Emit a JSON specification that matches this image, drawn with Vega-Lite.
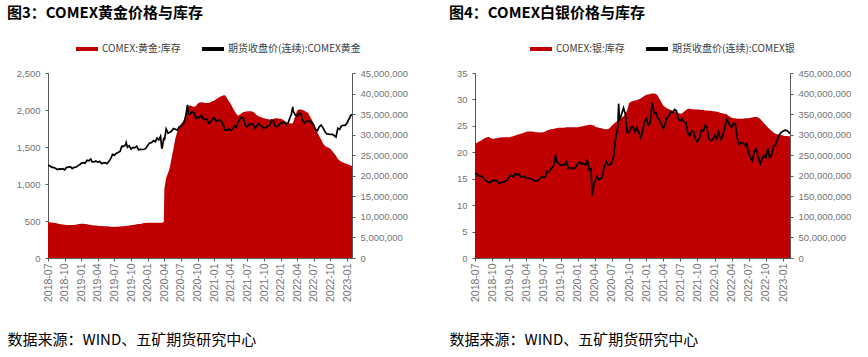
{
  "$schema": "https://vega.github.io/schema/vega-lite/v6.json",
  "padding": {"left": 7, "top": 6, "right": 5, "bottom": 5},
  "background": "#ffffff",
  "datasets": {
    "m": [
      {"date":"2018-07-01","gold":1253,"gold_stock":8750000,"silver":16.0,"silver_stock":278000000},
      {"date":"2018-07-11","gold":1245,"gold_stock":8700000,"silver":15.9,"silver_stock":280000000},
      {"date":"2018-07-21","gold":1228,"gold_stock":8650000,"silver":15.5,"silver_stock":283000000},
      {"date":"2018-08-01","gold":1222,"gold_stock":8600000,"silver":15.5,"silver_stock":285000000},
      {"date":"2018-08-11","gold":1212,"gold_stock":8500000,"silver":15.3,"silver_stock":288000000},
      {"date":"2018-08-21","gold":1196,"gold_stock":8400000,"silver":14.8,"silver_stock":291000000},
      {"date":"2018-09-01","gold":1203,"gold_stock":8300000,"silver":14.5,"silver_stock":293000000},
      {"date":"2018-09-11","gold":1200,"gold_stock":8200000,"silver":14.3,"silver_stock":295000000},
      {"date":"2018-09-21","gold":1206,"gold_stock":8150000,"silver":14.3,"silver_stock":292000000},
      {"date":"2018-10-01","gold":1191,"gold_stock":8100000,"silver":14.7,"silver_stock":290000000},
      {"date":"2018-10-11","gold":1225,"gold_stock":8050000,"silver":14.6,"silver_stock":290000000},
      {"date":"2018-10-21","gold":1228,"gold_stock":8000000,"silver":14.7,"silver_stock":291000000},
      {"date":"2018-11-01","gold":1233,"gold_stock":8000000,"silver":14.3,"silver_stock":292000000},
      {"date":"2018-11-11","gold":1208,"gold_stock":8000000,"silver":14.1,"silver_stock":293000000},
      {"date":"2018-11-21","gold":1225,"gold_stock":8000000,"silver":14.4,"silver_stock":294000000},
      {"date":"2018-12-01","gold":1228,"gold_stock":8100000,"silver":14.3,"silver_stock":294000000},
      {"date":"2018-12-11","gold":1245,"gold_stock":8200000,"silver":14.6,"silver_stock":294000000},
      {"date":"2018-12-21","gold":1258,"gold_stock":8300000,"silver":14.7,"silver_stock":294000000},
      {"date":"2019-01-01","gold":1283,"gold_stock":8350000,"silver":15.5,"silver_stock":294000000},
      {"date":"2019-01-11","gold":1288,"gold_stock":8350000,"silver":15.7,"silver_stock":295000000},
      {"date":"2019-01-21","gold":1281,"gold_stock":8300000,"silver":15.3,"silver_stock":296000000},
      {"date":"2019-02-01","gold":1320,"gold_stock":8200000,"silver":16.0,"silver_stock":298000000},
      {"date":"2019-02-11","gold":1313,"gold_stock":8100000,"silver":15.7,"silver_stock":300000000},
      {"date":"2019-02-21","gold":1338,"gold_stock":8000000,"silver":15.9,"silver_stock":301000000},
      {"date":"2019-03-01","gold":1298,"gold_stock":7950000,"silver":15.3,"silver_stock":302000000},
      {"date":"2019-03-11","gold":1298,"gold_stock":7900000,"silver":15.3,"silver_stock":303000000},
      {"date":"2019-03-21","gold":1312,"gold_stock":7900000,"silver":15.5,"silver_stock":305000000},
      {"date":"2019-04-01","gold":1293,"gold_stock":7850000,"silver":15.1,"silver_stock":307000000},
      {"date":"2019-04-11","gold":1306,"gold_stock":7800000,"silver":15.1,"silver_stock":308000000},
      {"date":"2019-04-21","gold":1276,"gold_stock":7800000,"silver":15.0,"silver_stock":308000000},
      {"date":"2019-05-01","gold":1282,"gold_stock":7750000,"silver":14.9,"silver_stock":308000000},
      {"date":"2019-05-11","gold":1287,"gold_stock":7700000,"silver":14.7,"silver_stock":307000000},
      {"date":"2019-05-21","gold":1274,"gold_stock":7700000,"silver":14.5,"silver_stock":306000000},
      {"date":"2019-06-01","gold":1306,"gold_stock":7650000,"silver":14.6,"silver_stock":306000000},
      {"date":"2019-06-11","gold":1343,"gold_stock":7600000,"silver":14.9,"silver_stock":305000000},
      {"date":"2019-06-21","gold":1400,"gold_stock":7600000,"silver":15.4,"silver_stock":305000000},
      {"date":"2019-07-01","gold":1390,"gold_stock":7600000,"silver":15.3,"silver_stock":306000000},
      {"date":"2019-07-11","gold":1413,"gold_stock":7600000,"silver":15.3,"silver_stock":308000000},
      {"date":"2019-07-21","gold":1426,"gold_stock":7600000,"silver":16.4,"silver_stock":310000000},
      {"date":"2019-08-01","gold":1440,"gold_stock":7650000,"silver":16.3,"silver_stock":312000000},
      {"date":"2019-08-11","gold":1512,"gold_stock":7700000,"silver":16.9,"silver_stock":313000000},
      {"date":"2019-08-21","gold":1509,"gold_stock":7750000,"silver":17.2,"silver_stock":314000000},
      {"date":"2019-09-01","gold":1530,"gold_stock":7800000,"silver":18.4,"silver_stock":315000000},
      {"date":"2019-09-04","gold":1560,"gold_stock":7800000,"silver":19.6,"silver_stock":315000000},
      {"date":"2019-09-11","gold":1497,"gold_stock":7850000,"silver":18.2,"silver_stock":316000000},
      {"date":"2019-09-21","gold":1516,"gold_stock":7900000,"silver":17.9,"silver_stock":317000000},
      {"date":"2019-10-01","gold":1472,"gold_stock":7950000,"silver":17.5,"silver_stock":317000000},
      {"date":"2019-10-11","gold":1494,"gold_stock":8000000,"silver":17.6,"silver_stock":317000000},
      {"date":"2019-10-21","gold":1489,"gold_stock":8100000,"silver":17.6,"silver_stock":317000000},
      {"date":"2019-11-01","gold":1512,"gold_stock":8200000,"silver":18.2,"silver_stock":318000000},
      {"date":"2019-11-11","gold":1462,"gold_stock":8250000,"silver":16.9,"silver_stock":318000000},
      {"date":"2019-11-21","gold":1467,"gold_stock":8300000,"silver":17.0,"silver_stock":318000000},
      {"date":"2019-12-01","gold":1466,"gold_stock":8400000,"silver":17.0,"silver_stock":318000000},
      {"date":"2019-12-11","gold":1470,"gold_stock":8500000,"silver":16.9,"silver_stock":318000000},
      {"date":"2019-12-21","gold":1481,"gold_stock":8500000,"silver":17.2,"silver_stock":318000000},
      {"date":"2020-01-01","gold":1523,"gold_stock":8600000,"silver":17.9,"silver_stock":318000000},
      {"date":"2020-01-11","gold":1554,"gold_stock":8600000,"silver":18.1,"silver_stock":319000000},
      {"date":"2020-01-21","gold":1558,"gold_stock":8600000,"silver":17.8,"silver_stock":320000000},
      {"date":"2020-02-01","gold":1587,"gold_stock":8600000,"silver":17.9,"silver_stock":321000000},
      {"date":"2020-02-11","gold":1570,"gold_stock":8600000,"silver":17.6,"silver_stock":322000000},
      {"date":"2020-02-21","gold":1620,"gold_stock":8600000,"silver":18.5,"silver_stock":323000000},
      {"date":"2020-03-01","gold":1595,"gold_stock":8600000,"silver":16.7,"silver_stock":324000000},
      {"date":"2020-03-11","gold":1644,"gold_stock":8600000,"silver":16.9,"silver_stock":324000000},
      {"date":"2020-03-18","gold":1477,"gold_stock":8600000,"silver":11.8,"silver_stock":323000000},
      {"date":"2020-03-21","gold":1498,"gold_stock":8600000,"silver":12.6,"silver_stock":323000000},
      {"date":"2020-03-29","gold":1625,"gold_stock":8800000,"silver":14.2,"silver_stock":322000000},
      {"date":"2020-04-01","gold":1590,"gold_stock":16800000,"silver":14.4,"silver_stock":320000000},
      {"date":"2020-04-11","gold":1744,"gold_stock":19500000,"silver":15.4,"silver_stock":318000000},
      {"date":"2020-04-21","gold":1687,"gold_stock":20600000,"silver":14.8,"silver_stock":317000000},
      {"date":"2020-05-01","gold":1700,"gold_stock":22000000,"silver":15.0,"silver_stock":316000000},
      {"date":"2020-05-11","gold":1715,"gold_stock":24400000,"silver":15.4,"silver_stock":315000000},
      {"date":"2020-05-21","gold":1750,"gold_stock":26600000,"silver":17.2,"silver_stock":314000000},
      {"date":"2020-06-01","gold":1740,"gold_stock":29200000,"silver":18.3,"silver_stock":313000000},
      {"date":"2020-06-11","gold":1727,"gold_stock":30700000,"silver":17.6,"silver_stock":314000000},
      {"date":"2020-06-21","gold":1770,"gold_stock":31800000,"silver":17.6,"silver_stock":317000000},
      {"date":"2020-07-01","gold":1780,"gold_stock":32600000,"silver":18.1,"silver_stock":322000000},
      {"date":"2020-07-11","gold":1805,"gold_stock":33100000,"silver":19.3,"silver_stock":326000000},
      {"date":"2020-07-21","gold":1844,"gold_stock":34000000,"silver":22.8,"silver_stock":330000000},
      {"date":"2020-08-01","gold":1985,"gold_stock":35500000,"silver":24.5,"silver_stock":334000000},
      {"date":"2020-08-06","gold":2070,"gold_stock":36400000,"silver":29.2,"silver_stock":336000000},
      {"date":"2020-08-11","gold":1946,"gold_stock":37000000,"silver":26.0,"silver_stock":338000000},
      {"date":"2020-08-21","gold":1947,"gold_stock":37100000,"silver":27.1,"silver_stock":342000000},
      {"date":"2020-09-01","gold":1978,"gold_stock":36900000,"silver":28.4,"silver_stock":345000000},
      {"date":"2020-09-11","gold":1963,"gold_stock":36800000,"silver":27.2,"silver_stock":350000000},
      {"date":"2020-09-21","gold":1880,"gold_stock":37000000,"silver":23.7,"silver_stock":360000000},
      {"date":"2020-10-01","gold":1908,"gold_stock":37500000,"silver":23.8,"silver_stock":377000000},
      {"date":"2020-10-11","gold":1895,"gold_stock":37800000,"silver":24.6,"silver_stock":380000000},
      {"date":"2020-10-21","gold":1930,"gold_stock":37900000,"silver":24.9,"silver_stock":382000000},
      {"date":"2020-11-01","gold":1880,"gold_stock":37800000,"silver":23.9,"silver_stock":383000000},
      {"date":"2020-11-11","gold":1876,"gold_stock":37700000,"silver":24.6,"silver_stock":384000000},
      {"date":"2020-11-21","gold":1874,"gold_stock":37700000,"silver":23.8,"silver_stock":386000000},
      {"date":"2020-12-01","gold":1820,"gold_stock":37700000,"silver":22.8,"silver_stock":388000000},
      {"date":"2020-12-11","gold":1839,"gold_stock":37900000,"silver":23.8,"silver_stock":391000000},
      {"date":"2020-12-21","gold":1878,"gold_stock":38100000,"silver":25.8,"silver_stock":394000000},
      {"date":"2021-01-01","gold":1895,"gold_stock":38300000,"silver":26.4,"silver_stock":397000000},
      {"date":"2021-01-11","gold":1843,"gold_stock":38600000,"silver":25.1,"silver_stock":398000000},
      {"date":"2021-01-21","gold":1866,"gold_stock":38900000,"silver":25.6,"silver_stock":399000000},
      {"date":"2021-02-01","gold":1863,"gold_stock":39200000,"silver":29.4,"silver_stock":400000000},
      {"date":"2021-02-11","gold":1841,"gold_stock":39400000,"silver":27.4,"silver_stock":400000000},
      {"date":"2021-02-21","gold":1778,"gold_stock":39600000,"silver":27.5,"silver_stock":399000000},
      {"date":"2021-03-01","gold":1725,"gold_stock":39600000,"silver":26.6,"silver_stock":396000000},
      {"date":"2021-03-11","gold":1727,"gold_stock":38900000,"silver":26.2,"silver_stock":388000000},
      {"date":"2021-03-21","gold":1741,"gold_stock":38200000,"silver":25.4,"silver_stock":380000000},
      {"date":"2021-04-01","gold":1728,"gold_stock":37500000,"silver":24.5,"silver_stock":371000000},
      {"date":"2021-04-11","gold":1744,"gold_stock":36600000,"silver":25.4,"silver_stock":367000000},
      {"date":"2021-04-21","gold":1785,"gold_stock":35800000,"silver":26.5,"silver_stock":364000000},
      {"date":"2021-05-01","gold":1768,"gold_stock":35100000,"silver":26.9,"silver_stock":362000000},
      {"date":"2021-05-11","gold":1836,"gold_stock":34600000,"silver":27.7,"silver_stock":360000000},
      {"date":"2021-05-21","gold":1876,"gold_stock":34900000,"silver":27.5,"silver_stock":359000000},
      {"date":"2021-06-01","gold":1905,"gold_stock":35300000,"silver":28.1,"silver_stock":357000000},
      {"date":"2021-06-11","gold":1880,"gold_stock":35500000,"silver":27.8,"silver_stock":355000000},
      {"date":"2021-06-21","gold":1782,"gold_stock":35600000,"silver":26.3,"silver_stock":353000000},
      {"date":"2021-07-01","gold":1777,"gold_stock":35700000,"silver":26.0,"silver_stock":351000000},
      {"date":"2021-07-11","gold":1806,"gold_stock":35700000,"silver":26.3,"silver_stock":352000000},
      {"date":"2021-07-21","gold":1806,"gold_stock":35700000,"silver":25.7,"silver_stock":356000000},
      {"date":"2021-08-01","gold":1813,"gold_stock":35600000,"silver":25.6,"silver_stock":360000000},
      {"date":"2021-08-11","gold":1752,"gold_stock":35300000,"silver":23.5,"silver_stock":363000000},
      {"date":"2021-08-21","gold":1781,"gold_stock":34800000,"silver":23.1,"silver_stock":363000000},
      {"date":"2021-09-01","gold":1815,"gold_stock":34500000,"silver":24.1,"silver_stock":362000000},
      {"date":"2021-09-11","gold":1788,"gold_stock":34300000,"silver":23.8,"silver_stock":362000000},
      {"date":"2021-09-21","gold":1774,"gold_stock":34100000,"silver":22.4,"silver_stock":361000000},
      {"date":"2021-10-01","gold":1757,"gold_stock":34000000,"silver":22.0,"silver_stock":361000000},
      {"date":"2021-10-11","gold":1759,"gold_stock":33900000,"silver":22.6,"silver_stock":361000000},
      {"date":"2021-10-21","gold":1783,"gold_stock":33800000,"silver":24.2,"silver_stock":360000000},
      {"date":"2021-11-01","gold":1794,"gold_stock":33700000,"silver":24.0,"silver_stock":360000000},
      {"date":"2021-11-11","gold":1862,"gold_stock":33700000,"silver":25.1,"silver_stock":359000000},
      {"date":"2021-11-21","gold":1853,"gold_stock":33800000,"silver":24.7,"silver_stock":359000000},
      {"date":"2021-12-01","gold":1781,"gold_stock":34000000,"silver":22.5,"silver_stock":358000000},
      {"date":"2021-12-11","gold":1775,"gold_stock":34000000,"silver":22.2,"silver_stock":358000000},
      {"date":"2021-12-21","gold":1790,"gold_stock":33900000,"silver":22.3,"silver_stock":357000000},
      {"date":"2022-01-01","gold":1828,"gold_stock":33900000,"silver":23.2,"silver_stock":357000000},
      {"date":"2022-01-11","gold":1820,"gold_stock":33700000,"silver":22.6,"silver_stock":356000000},
      {"date":"2022-01-21","gold":1836,"gold_stock":33400000,"silver":23.9,"silver_stock":355000000},
      {"date":"2022-02-01","gold":1801,"gold_stock":33100000,"silver":22.4,"silver_stock":353000000},
      {"date":"2022-02-11","gold":1827,"gold_stock":32900000,"silver":22.9,"silver_stock":352000000},
      {"date":"2022-02-21","gold":1898,"gold_stock":32700000,"silver":24.2,"silver_stock":351000000},
      {"date":"2022-03-01","gold":1944,"gold_stock":32700000,"silver":25.5,"silver_stock":350000000},
      {"date":"2022-03-08","gold":2043,"gold_stock":32800000,"silver":26.5,"silver_stock":349000000},
      {"date":"2022-03-11","gold":1985,"gold_stock":33000000,"silver":25.9,"silver_stock":347000000},
      {"date":"2022-03-21","gold":1935,"gold_stock":34500000,"silver":25.2,"silver_stock":344000000},
      {"date":"2022-04-01","gold":1923,"gold_stock":35900000,"silver":24.7,"silver_stock":341000000},
      {"date":"2022-04-11","gold":1953,"gold_stock":36100000,"silver":25.5,"silver_stock":340000000},
      {"date":"2022-04-21","gold":1950,"gold_stock":36100000,"silver":25.3,"silver_stock":340000000},
      {"date":"2022-05-01","gold":1863,"gold_stock":36000000,"silver":22.8,"silver_stock":339000000},
      {"date":"2022-05-11","gold":1824,"gold_stock":35800000,"silver":21.5,"silver_stock":339000000},
      {"date":"2022-05-21","gold":1846,"gold_stock":35600000,"silver":21.8,"silver_stock":339000000},
      {"date":"2022-06-01","gold":1848,"gold_stock":35300000,"silver":21.8,"silver_stock":339000000},
      {"date":"2022-06-11","gold":1849,"gold_stock":34400000,"silver":21.3,"silver_stock":340000000},
      {"date":"2022-06-21","gold":1830,"gold_stock":33600000,"silver":21.6,"silver_stock":340000000},
      {"date":"2022-07-01","gold":1801,"gold_stock":32700000,"silver":19.8,"silver_stock":340000000},
      {"date":"2022-07-11","gold":1740,"gold_stock":31600000,"silver":19.0,"silver_stock":341000000},
      {"date":"2022-07-21","gold":1719,"gold_stock":30500000,"silver":18.4,"silver_stock":342000000},
      {"date":"2022-08-01","gold":1772,"gold_stock":29700000,"silver":20.2,"silver_stock":343000000},
      {"date":"2022-08-11","gold":1796,"gold_stock":28800000,"silver":20.6,"silver_stock":343000000},
      {"date":"2022-08-21","gold":1762,"gold_stock":27900000,"silver":19.1,"silver_stock":342000000},
      {"date":"2022-09-01","gold":1709,"gold_stock":27300000,"silver":17.8,"silver_stock":338000000},
      {"date":"2022-09-11","gold":1676,"gold_stock":27000000,"silver":18.8,"silver_stock":333000000},
      {"date":"2022-09-21","gold":1673,"gold_stock":26800000,"silver":19.4,"silver_stock":328000000},
      {"date":"2022-10-01","gold":1669,"gold_stock":26600000,"silver":19.0,"silver_stock":323000000},
      {"date":"2022-10-11","gold":1675,"gold_stock":26000000,"silver":20.7,"silver_stock":318000000},
      {"date":"2022-10-21","gold":1656,"gold_stock":25500000,"silver":19.0,"silver_stock":314000000},
      {"date":"2022-11-01","gold":1635,"gold_stock":24900000,"silver":19.5,"silver_stock":309000000},
      {"date":"2022-11-11","gold":1753,"gold_stock":24100000,"silver":21.2,"silver_stock":305000000},
      {"date":"2022-11-21","gold":1740,"gold_stock":23700000,"silver":21.3,"silver_stock":302000000},
      {"date":"2022-12-01","gold":1784,"gold_stock":23400000,"silver":22.5,"silver_stock":301000000},
      {"date":"2022-12-11","gold":1793,"gold_stock":23200000,"silver":23.3,"silver_stock":300000000},
      {"date":"2022-12-21","gold":1793,"gold_stock":23000000,"silver":23.7,"silver_stock":299000000},
      {"date":"2023-01-01","gold":1825,"gold_stock":22900000,"silver":24.0,"silver_stock":298000000},
      {"date":"2023-01-11","gold":1877,"gold_stock":22700000,"silver":24.2,"silver_stock":297000000},
      {"date":"2023-01-21","gold":1928,"gold_stock":22500000,"silver":24.1,"silver_stock":297000000},
      {"date":"2023-02-01","gold":1942,"gold_stock":22400000,"silver":23.8,"silver_stock":296000000},
      {"date":"2023-02-07","gold":1935,"gold_stock":22300000,"silver":23.5,"silver_stock":296000000}
    ]
  },
  "data": {"name": "m"},
  "config": {
    "view": {"stroke": null},
    "axis": {
      "grid": false,
      "labelFont": "Liberation Sans",
      "labelFontSize": 9.5,
      "labelColor": "#737373",
      "domainColor": "#595959",
      "tickColor": "#595959",
      "tickSize": 3,
      "labelPadding": 5
    },
    "title": {"font": "Noto Sans CJK SC", "fontSize": 15, "fontWeight": "bold", "color": "#000000"},
    "legend": {
      "orient": "none",
      "direction": "horizontal",
      "title": null,
      "labelFont": "Noto Sans CJK SC",
      "labelFontSize": 10,
      "labelColor": "#404040",
      "symbolType": "stroke",
      "symbolSize": 484,
      "symbolStrokeWidth": 4,
      "labelOffset": 2,
      "columnPadding": 13,
      "padding": 0
    }
  },
  "spacing": 123,
  "bounds": "flush",
  "resolve": {"scale": {"x": "independent", "y": "independent", "color": "independent"}, "legend": {"color": "independent"}},
  "hconcat": [
    {
      "width": 304,
      "height": 185,
      "title": {"text": "图3：COMEX黄金价格与库存", "anchor": "start", "frame": "group", "dx": -41, "offset": 15, "fontSize": 15, "font": "Noto Sans CJK SC", "fontWeight": "bold"},
      "encoding": {
        "x": {
          "field": "date", "type": "temporal",
          "scale": {"type": "utc", "domain": [{"year": 2018, "month": 7, "date": 1, "utc": true}, {"year": 2023, "month": 1, "date": 28, "utc": true}]},
          "axis": {
            "values": [
              {"year": 2018, "month": 7, "date": 1, "utc": true}, {"year": 2018, "month": 10, "date": 1, "utc": true},
              {"year": 2019, "month": 1, "date": 1, "utc": true}, {"year": 2019, "month": 4, "date": 1, "utc": true},
              {"year": 2019, "month": 7, "date": 1, "utc": true}, {"year": 2019, "month": 10, "date": 1, "utc": true},
              {"year": 2020, "month": 1, "date": 1, "utc": true}, {"year": 2020, "month": 4, "date": 1, "utc": true},
              {"year": 2020, "month": 7, "date": 1, "utc": true}, {"year": 2020, "month": 10, "date": 1, "utc": true},
              {"year": 2021, "month": 1, "date": 1, "utc": true}, {"year": 2021, "month": 4, "date": 1, "utc": true},
              {"year": 2021, "month": 7, "date": 1, "utc": true}, {"year": 2021, "month": 10, "date": 1, "utc": true},
              {"year": 2022, "month": 1, "date": 1, "utc": true}, {"year": 2022, "month": 4, "date": 1, "utc": true},
              {"year": 2022, "month": 7, "date": 1, "utc": true}, {"year": 2022, "month": 10, "date": 1, "utc": true},
              {"year": 2023, "month": 1, "date": 1, "utc": true}
            ],
            "format": "%Y-%m",
            "labelAngle": -90,
            "labelPadding": 2,
            "labelFontSize": 10.5,
            "title": "数据来源：WIND、五矿期货研究中心",
            "titleFont": "Noto Sans CJK SC",
            "titleFontSize": 15,
            "titleFontWeight": "normal",
            "titleColor": "#000000",
            "titleAnchor": "start",
            "titleAlign": "left",
            "titleBaseline": "alphabetic",
            "titleX": -41,
            "titleY": 86
          }
        }
      },
      "layer": [
        {
          "mark": {"type": "area", "opacity": 1, "clip": true, "interpolate": "linear"},
          "encoding": {
            "y": {
              "field": "gold_stock", "type": "quantitative",
              "scale": {"domain": [0, 45000000], "nice": false},
              "axis": {"orient": "right", "title": null, "values": [0, 5000000, 10000000, 15000000, 20000000, 25000000, 30000000, 35000000, 40000000, 45000000], "format": ",.0f", "labelPadding": 5}
            },
            "color": {
              "datum": "COMEX:黄金:库存",
              "scale": {"domain": ["COMEX:黄金:库存", "期货收盘价(连续):COMEX黄金"], "range": ["#c00000", "#000000"]},
              "legend": {
                "orient": "none", "legendX": 26, "legendY": -37,
                "symbolType": "stroke",
                "encode": {
                  "symbols": {"update": {
                    "shape": {"value": "stroke"},
                    "stroke": {"signal": "indexOf(datum.value, '库存') >= 0 ? '#c00000' : '#000000'"},
                    "strokeWidth": {"signal": "indexOf(datum.value, '库存') >= 0 ? 4.5 : 1.8"},
                    "fill": {"value": "transparent"},
                    "opacity": {"value": 1},
                    "strokeOpacity": {"value": 1}
                  }}
                }
              }
            }
          }
        },
        {
          "mark": {"type": "line", "strokeWidth": 1.7, "clip": true},
          "encoding": {
            "y": {
              "field": "gold", "type": "quantitative",
              "scale": {"domain": [0, 2500], "nice": false},
              "axis": {"orient": "left", "title": null, "values": [0, 500, 1000, 1500, 2000, 2500], "format": ",.0f"}
            },
            "color": {"datum": "期货收盘价(连续):COMEX黄金"}
          }
        }
      ],
      "resolve": {"scale": {"y": "independent"}}
    },
    {
      "width": 315,
      "height": 185,
      "title": {"text": "图4：COMEX白银价格与库存", "anchor": "start", "frame": "group", "dx": -26, "offset": 15, "fontSize": 15, "font": "Noto Sans CJK SC", "fontWeight": "bold"},
      "encoding": {
        "x": {
          "field": "date", "type": "temporal",
          "scale": {"type": "utc", "domain": [{"year": 2018, "month": 7, "date": 1, "utc": true}, {"year": 2023, "month": 2, "date": 7, "utc": true}]},
          "axis": {
            "values": [
              {"year": 2018, "month": 7, "date": 1, "utc": true}, {"year": 2018, "month": 10, "date": 1, "utc": true},
              {"year": 2019, "month": 1, "date": 1, "utc": true}, {"year": 2019, "month": 4, "date": 1, "utc": true},
              {"year": 2019, "month": 7, "date": 1, "utc": true}, {"year": 2019, "month": 10, "date": 1, "utc": true},
              {"year": 2020, "month": 1, "date": 1, "utc": true}, {"year": 2020, "month": 4, "date": 1, "utc": true},
              {"year": 2020, "month": 7, "date": 1, "utc": true}, {"year": 2020, "month": 10, "date": 1, "utc": true},
              {"year": 2021, "month": 1, "date": 1, "utc": true}, {"year": 2021, "month": 4, "date": 1, "utc": true},
              {"year": 2021, "month": 7, "date": 1, "utc": true}, {"year": 2021, "month": 10, "date": 1, "utc": true},
              {"year": 2022, "month": 1, "date": 1, "utc": true}, {"year": 2022, "month": 4, "date": 1, "utc": true},
              {"year": 2022, "month": 7, "date": 1, "utc": true}, {"year": 2022, "month": 10, "date": 1, "utc": true},
              {"year": 2023, "month": 1, "date": 1, "utc": true}
            ],
            "format": "%Y-%m",
            "labelAngle": -90,
            "labelPadding": 2,
            "labelFontSize": 10.5,
            "title": "数据来源：WIND、五矿期货研究中心",
            "titleFont": "Noto Sans CJK SC",
            "titleFontSize": 15,
            "titleFontWeight": "normal",
            "titleColor": "#000000",
            "titleAnchor": "start",
            "titleAlign": "left",
            "titleBaseline": "alphabetic",
            "titleX": -26,
            "titleY": 86
          }
        }
      },
      "layer": [
        {
          "mark": {"type": "area", "opacity": 1, "clip": true, "interpolate": "linear"},
          "encoding": {
            "y": {
              "field": "silver_stock", "type": "quantitative",
              "scale": {"domain": [0, 450000000], "nice": false},
              "axis": {"orient": "right", "title": null, "values": [0, 50000000, 100000000, 150000000, 200000000, 250000000, 300000000, 350000000, 400000000, 450000000], "format": ",.0f", "labelPadding": 5}
            },
            "color": {
              "datum": "COMEX:银:库存",
              "scale": {"domain": ["COMEX:银:库存", "期货收盘价(连续):COMEX银"], "range": ["#c00000", "#000000"]},
              "legend": {
                "orient": "none", "legendX": 53, "legendY": -37,
                "symbolType": "stroke",
                "encode": {
                  "symbols": {"update": {
                    "shape": {"value": "stroke"},
                    "stroke": {"signal": "indexOf(datum.value, '库存') >= 0 ? '#c00000' : '#000000'"},
                    "strokeWidth": {"signal": "indexOf(datum.value, '库存') >= 0 ? 4.5 : 1.8"},
                    "fill": {"value": "transparent"},
                    "opacity": {"value": 1},
                    "strokeOpacity": {"value": 1}
                  }}
                }
              }
            }
          }
        },
        {
          "mark": {"type": "line", "strokeWidth": 1.7, "clip": true},
          "encoding": {
            "y": {
              "field": "silver", "type": "quantitative",
              "scale": {"domain": [0, 35], "nice": false},
              "axis": {"orient": "left", "title": null, "values": [0, 5, 10, 15, 20, 25, 30, 35], "format": ",.0f"}
            },
            "color": {"datum": "期货收盘价(连续):COMEX银"}
          }
        }
      ],
      "resolve": {"scale": {"y": "independent"}}
    }
  ]
}
